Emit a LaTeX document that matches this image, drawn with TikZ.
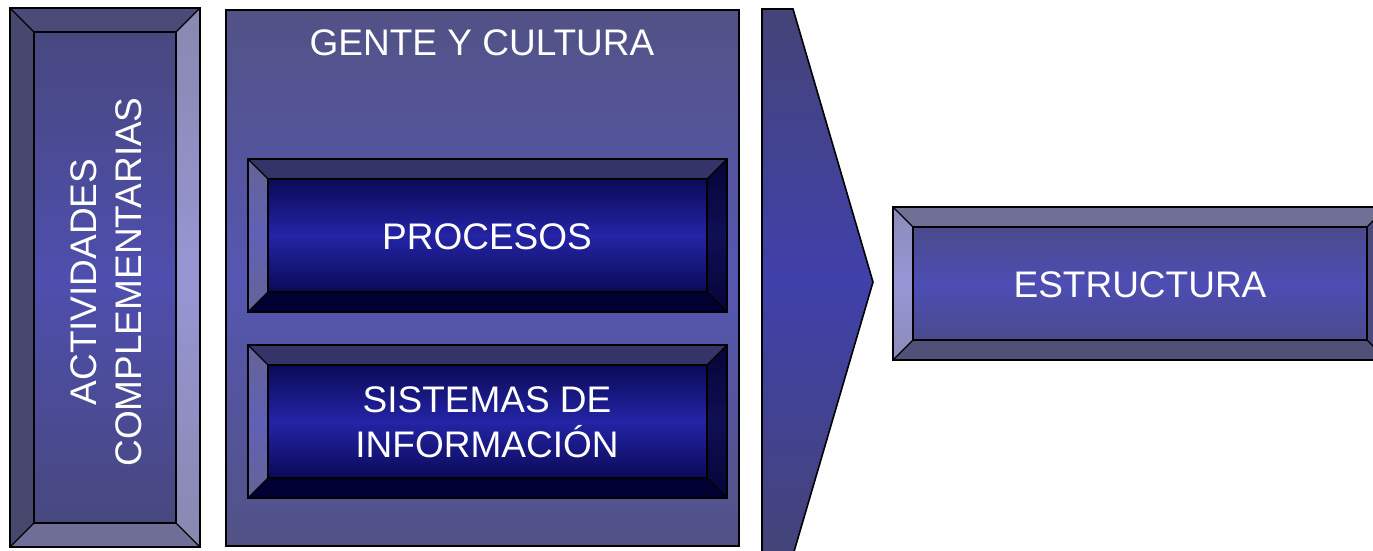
\documentclass[tikz,border=0pt]{standalone}
\usepackage{fontspec}
\setmainfont{Liberation Sans}
% colours
\definecolor{aTc}{RGB}{76,74,120}
\definecolor{aLc}{RGB}{72,72,110}
\definecolor{aRe}{RGB}{136,136,176}
\definecolor{aRm}{RGB}{150,150,212}
\definecolor{aBc}{RGB}{110,110,150}
\definecolor{aIe}{RGB}{72,72,128}
\definecolor{aIm}{RGB}{78,78,174}
\definecolor{gE}{RGB}{82,82,134}
\definecolor{gM}{RGB}{86,86,178}
\definecolor{pTc}{RGB}{52,52,104}
\definecolor{pLe}{RGB}{100,100,150}
\definecolor{pLm}{RGB}{96,96,182}
\definecolor{pRe}{RGB}{5,5,55}
\definecolor{pRm}{RGB}{15,15,85}
\definecolor{pBc}{RGB}{0,0,50}
\definecolor{pIe}{RGB}{10,10,88}
\definecolor{pIm}{RGB}{36,36,166}
\definecolor{wE}{RGB}{68,68,120}
\definecolor{wM}{RGB}{64,64,170}
\definecolor{eTc}{RGB}{112,112,150}
\definecolor{eLe}{RGB}{140,140,185}
\definecolor{eLm}{RGB}{150,150,215}
\definecolor{eBc}{RGB}{80,80,120}
\definecolor{eRc}{RGB}{74,74,128}
\definecolor{eIe}{RGB}{74,74,140}
\definecolor{eIm}{RGB}{77,77,180}
\tikzset{
  edge/.style={draw=black, line width=1.6pt, line join=miter},
  diag/.style={draw=black, line width=1.2pt},
  lbl/.style={text=white, font=\fontsize{37}{45}\selectfont, inner sep=0pt, align=center},
  % left box
  aT/.style={fill=aTc}, aB/.style={fill=aBc}, aL/.style={fill=aLc},
  aR/.style={top color=aRe, bottom color=aRe, middle color=aRm},
  aI/.style={top color=aIe, bottom color=aIe, middle color=aIm},
  % procesos / sistemas
  pT/.style={fill=pTc}, pB/.style={fill=pBc},
  pL/.style={top color=pLe, bottom color=pLe, middle color=pLm},
  pR/.style={top color=pRe, bottom color=pRe, middle color=pRm},
  pI/.style={top color=pIe, bottom color=pIe, middle color=pIm},
  % estructura
  eT/.style={fill=eTc}, eB/.style={fill=eBc}, eR/.style={fill=eRc},
  eL/.style={top color=eLe, bottom color=eLe, middle color=eLm},
  eI/.style={top color=eIe, bottom color=eIe, middle color=eIm},
}
% #1 style prefix, #2 x1, #3 y1, #4 x2, #5 y2, #6 bevel width
\newcommand\bevbox[6]{%
  \path[#1T] (#2,#3) -- (#4,#3) -- ({#4-#6},{#3+#6}) -- ({#2+#6},{#3+#6}) -- cycle;
  \path[#1B] (#2,#5) -- (#4,#5) -- ({#4-#6},{#5-#6}) -- ({#2+#6},{#5-#6}) -- cycle;
  \path[#1L] (#2,#3) -- ({#2+#6},{#3+#6}) -- ({#2+#6},{#5-#6}) -- (#2,#5) -- cycle;
  \path[#1R] (#4,#3) -- ({#4-#6},{#3+#6}) -- ({#4-#6},{#5-#6}) -- (#4,#5) -- cycle;
  \path[#1I] ({#2+#6},{#3+#6}) rectangle ({#4-#6},{#5-#6});
  \path[diag] (#2,#3) -- ({#2+#6},{#3+#6}) (#4,#3) -- ({#4-#6},{#3+#6})
    (#2,#5) -- ({#2+#6},{#5-#6}) (#4,#5) -- ({#4-#6},{#5-#6});
  \path[edge] (#2,#3) rectangle (#4,#5) ({#2+#6},{#3+#6}) rectangle ({#4-#6},{#5-#6});
}
\begin{document}
\begin{tikzpicture}[x=1pt,y=-1pt]
\useasboundingbox (0,0) rectangle (1373,550);
\clip (0,0) rectangle (1373,550);
% left bevelled column
\bevbox{a}{10}{8}{200}{547}{24}
% GENTE Y CULTURA panel
\path[edge, top color=gE, bottom color=gE, middle color=gM] (226,10) rectangle (739,546);
% inner buttons
\bevbox{p}{248}{159}{727}{312}{20}
\bevbox{p}{248}{345}{727}{498}{20}
% chevron arrow
\path[edge, top color=wE, bottom color=wE, middle color=wM]
  (762,9) -- (793,9) -- (873,282) -- (793,555) -- (762,555) -- cycle;
% ESTRUCTURA box
\bevbox{e}{893}{207}{1387}{360}{20}
% labels
\node[lbl, rotate=90] (act) at (106,282) {ACTIVIDADES\\COMPLEMENTARIAS};
\node[lbl] (gente) at (482,43) {GENTE Y CULTURA};
\node[lbl] (proc) at (487,237) {PROCESOS};
\node[lbl] (sist) at (487,422) {SISTEMAS DE\\INFORMACIÓN};
\node[lbl] (estr) at (1140,285) {ESTRUCTURA};
\end{tikzpicture}
\end{document}
